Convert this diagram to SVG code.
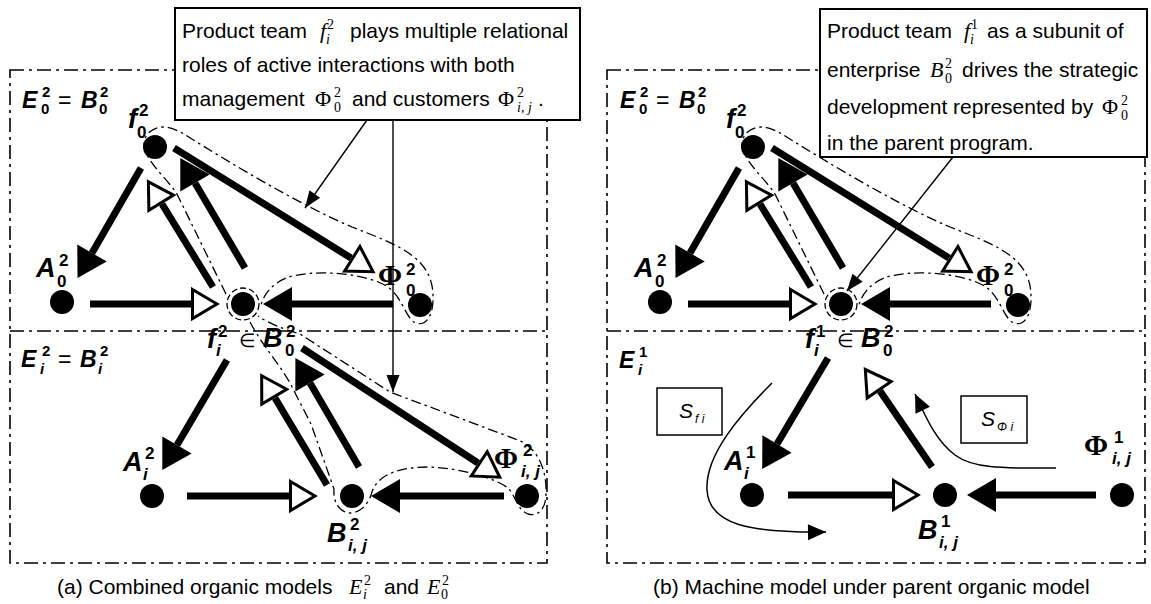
<svg xmlns="http://www.w3.org/2000/svg" width="1151" height="604" viewBox="0 0 1151 604">
<defs>
<style>
.frame{fill:none;stroke:#000;stroke-width:1.6;stroke-dasharray:14 5 3 5}
.contour{fill:none;stroke:#000;stroke-width:1.3;stroke-dasharray:10 4 2.5 4}
.dcirc{fill:none;stroke:#000;stroke-width:1.3;stroke-dasharray:6 3}
.thb{fill:none;stroke:#000;stroke-width:7;marker-end:url(#ab)}
.thw{fill:none;stroke:#000;stroke-width:7;marker-end:url(#aw)}
.ld{fill:none;stroke:#000;stroke-width:1.4;marker-end:url(#at)}
.cv{fill:none;stroke:#000;stroke-width:1.5;marker-end:url(#at2)}
.box{fill:#fff;stroke:#000;stroke-width:2}
.sbox{fill:#fff;stroke:#000;stroke-width:1.5}
.dot{fill:#000}
text{fill:#000}
.L{font-family:"Liberation Sans",Arial,sans-serif;font-weight:bold;font-style:italic;font-size:27px}
.LE{font-family:"Liberation Sans",Arial,sans-serif;font-weight:bold;font-style:italic;font-size:23px}
.D{font-family:"Liberation Sans",Arial,sans-serif;font-weight:bold;font-size:17px}
.DI{font-family:"Liberation Sans",Arial,sans-serif;font-weight:bold;font-style:italic;font-size:17px}
.DE{font-family:"Liberation Sans",Arial,sans-serif;font-weight:bold;font-size:15px}
.DEI{font-family:"Liberation Sans",Arial,sans-serif;font-weight:bold;font-style:italic;font-size:15px}
.P{font-family:"Liberation Serif","Times New Roman",serif;font-weight:bold;font-size:29px}
.eq{font-family:"Liberation Sans",Arial,sans-serif;font-size:23px}
.in{font-family:"DejaVu Sans",sans-serif;font-size:19px}
.T{font-family:"Liberation Sans",Arial,sans-serif;font-size:21px}
.mi{font-family:"Liberation Serif","Times New Roman",serif;font-style:italic;font-size:22px}
.mr{font-family:"Liberation Serif","Times New Roman",serif;font-size:22px}
.ms{font-family:"Liberation Serif","Times New Roman",serif;font-size:14px}
.msi{font-family:"Liberation Serif","Times New Roman",serif;font-style:italic;font-size:14px}
.S{font-family:"Liberation Sans",Arial,sans-serif;font-style:italic;font-size:21px}
.Ss{font-family:"Liberation Sans",Arial,sans-serif;font-style:italic;font-size:12px}
</style>
<marker id="ab" markerUnits="userSpaceOnUse" orient="auto" overflow="visible" markerWidth="1" markerHeight="1" refX="0" refY="0"><path d="M0,-17 L29,0 L0,17 z" fill="#000"/></marker>
<marker id="aw" markerUnits="userSpaceOnUse" orient="auto" overflow="visible" markerWidth="1" markerHeight="1" refX="0" refY="0"><path d="M1.5,-14.5 L26,0 L1.5,14.5 z" fill="#fff" stroke="#000" stroke-width="3"/></marker>
<marker id="at" markerUnits="userSpaceOnUse" orient="auto" overflow="visible" markerWidth="1" markerHeight="1" refX="0" refY="0"><path d="M-17,-6.5 L0,0 L-17,6.5 z" fill="#000"/></marker>
<marker id="at2" markerUnits="userSpaceOnUse" orient="auto" overflow="visible" markerWidth="1" markerHeight="1" refX="0" refY="0"><path d="M-18,-8 L0,0 L-18,8 z" fill="#000"/></marker>
</defs>
<rect width="1151" height="604" fill="#fff"/>

<g id="frames">
<rect class="frame" x="10" y="70" width="537" height="493"/>
<line class="frame" x1="10" y1="331" x2="547" y2="331"/>
<rect class="frame" x="607" y="70" width="538" height="493"/>
<line class="frame" x1="607" y1="331" x2="1145" y2="331"/>
</g>

<g id="contours">
<path class="contour" d="M226,294 L177,194 C168,180 150,165 145,150 C141,138 150,127 163,127 C172,127 178,131 184,134 C230,163 300,205 352,227 C395,244 432,256 433,295 C434,318 424,328 414,322 C405,316 402,297 388,287 C365,272 310,269 286,278 C272,284 264,294 261,305"/>
<circle class="dcirc" cx="243" cy="304" r="16"/>
<path class="contour" d="M250,322 C262,345 280,365 290,383 L311,424 L334,489 C333,502 339,512 350,513 C361,513 369,503 372,492 C378,474 400,467 429,467 C460,468 495,478 508,488 C516,496 517,510 528,514 C539,517 546,508 546,494 C547,470 538,448 518,440 L390,392 L300,334 C283,329 268,323 258,316"/>
<path class="contour" d="M824,294 L775,194 C766,180 748,165 743,150 C739,138 748,127 761,127 C770,127 776,131 782,134 C828,163 898,205 950,227 C993,244 1030,256 1031,295 C1032,318 1022,328 1012,322 C1003,316 1000,297 986,287 C963,272 908,269 884,278 C870,284 862,294 859,305"/>
<circle class="dcirc" cx="841" cy="304" r="16"/>
</g>

<g id="connectors">
<line class="thb" x1="141" y1="168" x2="92" y2="253"/>
<line class="thb" x1="245" y1="268" x2="195" y2="183"/>
<line class="thw" x1="213" y1="287" x2="162" y2="204"/>
<line class="thw" x1="174" y1="148" x2="351" y2="258"/>
<line class="thw" x1="90" y1="304" x2="191" y2="304"/>
<line class="thb" x1="393" y1="304" x2="292" y2="304"/>
<line class="thb" x1="227" y1="360" x2="177" y2="445"/>
<line class="thb" x1="359" y1="467" x2="310" y2="383"/>
<line class="thw" x1="327" y1="485" x2="275" y2="398"/>
<line class="thw" x1="302" y1="348" x2="478" y2="463"/>
<line class="thw" x1="187" y1="496" x2="289" y2="496"/>
<line class="thb" x1="504" y1="496" x2="400" y2="496"/>

<line class="thb" x1="739" y1="168" x2="690" y2="253"/>
<line class="thb" x1="843" y1="268" x2="793" y2="183"/>
<line class="thw" x1="811" y1="287" x2="760" y2="204"/>
<line class="thw" x1="772" y1="148" x2="949" y2="258"/>
<line class="thw" x1="688" y1="304" x2="789" y2="304"/>
<line class="thb" x1="991" y1="304" x2="890" y2="304"/>
<line class="thb" x1="828" y1="358" x2="777" y2="444"/>
<line class="thw" x1="932" y1="467" x2="880" y2="391"/>
<line class="thw" x1="788" y1="495" x2="892" y2="495"/>
<line class="thb" x1="1096" y1="495" x2="996" y2="495"/>

<path class="cv" d="M772,383 C740,415 705,455 707,490 C709,525 750,533 826,532"/>
<path class="cv" d="M1056,468 C1010,468 975,470 955,455 C935,440 925,415 915,394"/>
</g>

<g id="label-E0-left">
<text class="LE" x="22" y="108">E</text><text class="DE" x="42" y="97">2</text><text class="DE" x="41" y="114">0</text>
<text class="eq" x="58" y="108">=</text>
<text class="LE" x="81" y="108">B</text><text class="DE" x="100" y="97">2</text><text class="DE" x="99" y="114">0</text>
</g>
<g id="label-Ei-left">
<text class="LE" x="21" y="367">E</text><text class="DE" x="42" y="356">2</text><text class="DEI" x="40" y="374">i</text>
<text class="eq" x="58" y="367">=</text>
<text class="LE" x="80" y="367">B</text><text class="DE" x="100" y="356">2</text><text class="DEI" x="98" y="374">i</text>
</g>

<g id="node-f0-left"><circle class="dot" cx="155" cy="147" r="12"/><text class="L" x="128" y="128">f</text><text class="D" x="139" y="116">2</text><text class="D" x="137" y="138">0</text></g>
<g id="node-A0-left"><circle class="dot" cx="62" cy="302" r="12"/><text class="L" x="36" y="277">A</text><text class="D" x="59" y="266">2</text><text class="D" x="57" y="287">0</text></g>
<g id="node-fi-left"><circle class="dot" cx="243" cy="304" r="12"/><text class="L" x="207" y="348">f</text><text class="D" x="218" y="337">2</text><text class="DI" x="216" y="356">i</text><text class="in" x="239" y="347">∈</text><text class="L" x="263" y="347">B</text><text class="D" x="286" y="337">2</text><text class="D" x="285" y="356">0</text></g>
<g id="node-Phi0-left"><circle class="dot" cx="420" cy="305" r="12"/><text class="P" x="378" y="285">Φ</text><text class="D" x="406" y="275">2</text><text class="D" x="406" y="296">0</text></g>
<g id="node-Ai-left"><circle class="dot" cx="152" cy="496" r="12"/><text class="L" x="123" y="471">A</text><text class="D" x="145" y="459">2</text><text class="DI" x="143" y="480">i</text></g>
<g id="node-Bij-left"><circle class="dot" cx="352" cy="496" r="12"/><text class="L" x="327" y="542">B</text><text class="D" x="350" y="530">2</text><text class="DI" x="348" y="551">i, j</text></g>
<g id="node-Phiij-left"><circle class="dot" cx="527" cy="496" r="12"/><text class="P" x="494" y="468">Φ</text><text class="D" x="523" y="456">2</text><text class="DI" x="521" y="477">i, j</text></g>

<g id="label-E0-right">
<text class="LE" x="620" y="108">E</text><text class="DE" x="640" y="97">2</text><text class="DE" x="639" y="114">0</text>
<text class="eq" x="656" y="108">=</text>
<text class="LE" x="679" y="108">B</text><text class="DE" x="698" y="97">2</text><text class="DE" x="697" y="114">0</text>
</g>
<g id="label-Ei-right">
<text class="LE" x="619" y="368">E</text><text class="DE" x="639" y="357">1</text><text class="DEI" x="638" y="375">i</text>
</g>

<g id="node-f0-right"><circle class="dot" cx="753" cy="147" r="12"/><text class="L" x="726" y="128">f</text><text class="D" x="737" y="116">2</text><text class="D" x="735" y="138">0</text></g>
<g id="node-A0-right"><circle class="dot" cx="660" cy="302" r="12"/><text class="L" x="634" y="277">A</text><text class="D" x="657" y="266">2</text><text class="D" x="655" y="287">0</text></g>
<g id="node-fi-right"><circle class="dot" cx="841" cy="304" r="12"/><text class="L" x="805" y="348">f</text><text class="D" x="816" y="337">1</text><text class="DI" x="814" y="356">i</text><text class="in" x="837" y="347">∈</text><text class="L" x="861" y="347">B</text><text class="D" x="884" y="337">2</text><text class="D" x="883" y="356">0</text></g>
<g id="node-Phi0-right"><circle class="dot" cx="1018" cy="305" r="12"/><text class="P" x="976" y="285">Φ</text><text class="D" x="1004" y="275">2</text><text class="D" x="1004" y="296">0</text></g>
<g id="node-Ai-right"><circle class="dot" cx="752" cy="495" r="12"/><text class="L" x="724" y="470">A</text><text class="D" x="746" y="458">1</text><text class="DI" x="744" y="479">i</text></g>
<g id="node-Bij-right"><circle class="dot" cx="945" cy="495" r="12"/><text class="L" x="918" y="539">B</text><text class="D" x="941" y="527">1</text><text class="DI" x="939" y="548">i, j</text></g>
<g id="node-Phiij-right"><circle class="dot" cx="1122" cy="495" r="12"/><text class="P" x="1084" y="455">Φ</text><text class="D" x="1114" y="443">1</text><text class="DI" x="1112" y="464">i, j</text></g>

<g id="box-Sfi"><rect class="sbox" x="657" y="388" width="65" height="47"/><text class="S" x="679" y="418">S</text><text class="Ss" x="695" y="423">f i</text></g>
<g id="box-SPhii"><rect class="sbox" x="961" y="396" width="66" height="47"/><text class="S" x="981" y="426">S</text><text class="Ss" x="997" y="431">Φ i</text></g>

<g id="callout-left">
<rect class="box" x="175" y="8" width="405" height="112"/>
<text class="T" x="182" y="38">Product team</text>
<text class="mi" x="320" y="38">f</text><text class="msi" x="326" y="44">i</text><text class="ms" x="327" y="29">2</text>
<text class="T" x="350" y="38">plays multiple relational</text>
<text class="T" x="182" y="72">roles of active interactions with both</text>
<text class="T" x="182" y="106">management</text>
<text class="mr" x="315" y="106">Φ</text><text class="ms" x="334" y="97">2</text><text class="ms" x="334" y="112">0</text>
<text class="T" x="352" y="106">and customers</text>
<text class="mr" x="498" y="106">Φ</text><text class="ms" x="517" y="97">2</text><text class="msi" x="517" y="112">i, j</text>
<text class="T" x="538" y="106">.</text>
<line class="ld" x1="367" y1="120" x2="305" y2="208"/>
<line class="ld" x1="393" y1="120" x2="393" y2="392"/>
</g>

<g id="callout-right">
<rect class="box" x="820" y="9" width="327" height="148"/>
<text class="T" x="827" y="38">Product team</text>
<text class="mi" x="964" y="38">f</text><text class="msi" x="970" y="44">i</text><text class="ms" x="971" y="29">1</text>
<text class="T" x="987" y="38">as a subunit of</text>
<text class="T" x="827" y="77">enterprise</text>
<text class="mi" x="930" y="77">B</text><text class="ms" x="945" y="68">2</text><text class="ms" x="945" y="83">0</text>
<text class="T" x="962" y="77">drives the strategic</text>
<text class="T" x="827" y="114">development represented by</text>
<text class="mr" x="1102" y="114">Φ</text><text class="ms" x="1121" y="105">2</text><text class="ms" x="1121" y="120">0</text>
<text class="T" x="827" y="150">in the parent program.</text>
<line class="ld" x1="953" y1="157" x2="847" y2="291"/>
</g>

<g id="captions">
<text class="T" x="57" y="594">(a) Combined organic models</text>
<text class="mi" x="349" y="594">E</text><text class="ms" x="364" y="585">2</text><text class="msi" x="363" y="599">i</text>
<text class="T" x="384" y="594">and</text>
<text class="mi" x="427" y="594">E</text><text class="ms" x="442" y="585">2</text><text class="ms" x="441" y="599">0</text>
<text class="T" x="653" y="594">(b) Machine model under parent organic model</text>
</g>
</svg>
